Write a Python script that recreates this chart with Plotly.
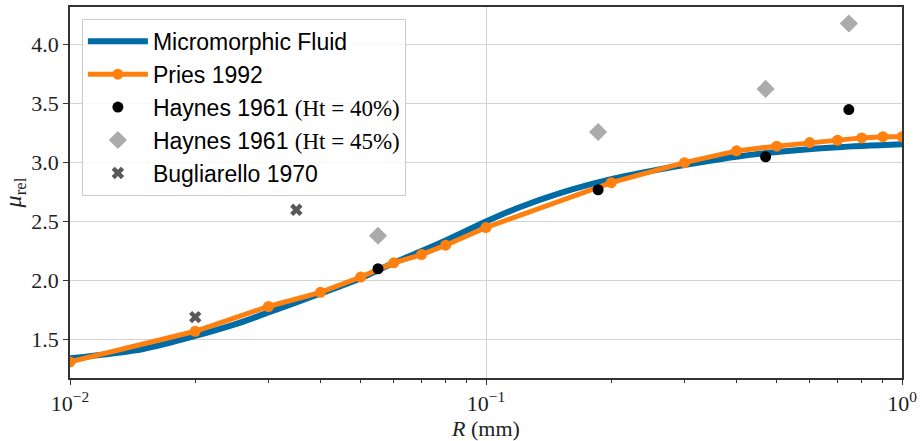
import plotly.graph_objects as go

# ---- data ----
micro_R = [0.01, 0.015, 0.02, 0.025, 0.03, 0.04, 0.05, 0.06, 0.07, 0.08,
           0.1, 0.12, 0.15, 0.2, 0.25, 0.3, 0.4, 0.5, 0.7, 1.0]
micro_mu = [1.34, 1.42, 1.53, 1.63, 1.73, 1.89, 2.02, 2.15, 2.25, 2.34,
            2.50, 2.62, 2.74, 2.86, 2.93, 2.98, 3.05, 3.09, 3.13, 3.155]

pries_R = [0.01, 0.02, 0.03, 0.04, 0.05, 0.06, 0.07, 0.08, 0.1, 0.2, 0.3, 0.4, 0.5, 0.6, 0.7, 0.8, 0.9, 1.0]
pries_mu = [1.31, 1.57, 1.78, 1.90, 2.03, 2.15, 2.22, 2.30, 2.45, 2.83, 3.00, 3.10, 3.14, 3.17, 3.19, 3.21, 3.22, 3.22]

haynes_R = [0.055, 0.186, 0.47, 0.745]
haynes40_mu = [2.10, 2.77, 3.05, 3.45]
haynes45_mu = [2.38, 3.26, 3.625, 4.18]

bug_R = [0.02, 0.035]
bug_mu = [1.69, 2.60]

x_tickvals = [0.01, 0.1, 1.0]
x_ticktext = ["10<sup>−2</sup>", "10<sup>−1</sup>", "10<sup>0</sup>"]
y_tickvals = [1.5, 2.0, 2.5, 3.0, 3.5, 4.0]
y_ticktext = ["1.5", "2.0", "2.5", "3.0", "3.5", "4.0"]
minor_vals = [k * 10 ** e for e in (-2, -1) for k in range(2, 10)]

SERIF = "Liberation Serif"
SANS = "Liberation Sans"

def math(s):
    return f"<span style='font-family:{SERIF}'>{s}</span>"

fig = go.Figure()
fig.add_trace(go.Scatter(
    x=micro_R, y=micro_mu, mode="lines", name="Micromorphic Fluid", legendgroup="a",
    line=dict(color="#006BA4", width=6, shape="spline", smoothing=0.8)))
fig.add_trace(go.Scatter(
    x=pries_R, y=pries_mu, mode="lines+markers", name="Pries 1992", legendgroup="b",
    line=dict(color="#FF800E", width=5),
    marker=dict(color="#FF800E", size=11)))
fig.add_trace(go.Scatter(
    x=haynes_R, y=haynes40_mu, mode="markers", legendgroup="c",
    name="Haynes 1961 " + math("(Ht = 40%)"),
    marker=dict(color="black", size=11)))
fig.add_trace(go.Scatter(
    x=haynes_R, y=haynes45_mu, mode="markers", legendgroup="d",
    name="Haynes 1961 " + math("(Ht = 45%)"),
    marker=dict(color="#ABABAB", size=14, symbol="diamond")))
fig.add_trace(go.Scatter(
    x=bug_R, y=bug_mu, mode="markers", name="Bugliarello 1970", legendgroup="e",
    marker=dict(color="#595959", size=11, symbol="x")))

fig.update_layout(
    width=922, height=441,
    margin=dict(l=70, r=15, t=5, b=61),
    paper_bgcolor="white", plot_bgcolor="white",
    font=dict(family=SERIF, size=19, color="#222"),
    showlegend=True,
    legend=dict(
        x=0.0143, y=0.968, xanchor="left", yanchor="top",
        bgcolor="rgba(255,255,255,0.85)", bordercolor="#cccccc", borderwidth=1,
        font=dict(family=SANS, size=23, color="black"),
        itemwidth=60, tracegroupgap=2, traceorder="normal"),
)
fig.update_xaxes(
    type="log", range=[-2, 0],
    tickmode="array", tickvals=x_tickvals, ticktext=x_ticktext,
    ticklabeloverflow="allow",
    ticks="outside", ticklen=5, tickwidth=1, tickcolor="#333",
    showgrid=True, gridcolor="#d3d3d3", gridwidth=1,
    showline=True, linecolor="#333", linewidth=1.5, mirror=True,
    minor=dict(tickmode="array", tickvals=minor_vals, ticks="outside",
               ticklen=3, tickcolor="#333", showgrid=False),
    title=dict(text="<i>R</i> (mm)", font=dict(family=SERIF, size=22), standoff=4),
    tickfont=dict(family=SERIF, size=22),
    zeroline=False,
)
fig.update_yaxes(
    range=[1.1735, 4.32],
    tickmode="array", tickvals=y_tickvals, ticktext=y_ticktext,
    ticks="outside", ticklen=5, tickwidth=1, tickcolor="#333",
    showgrid=True, gridcolor="#d3d3d3", gridwidth=1,
    showline=True, linecolor="#333", linewidth=1.5, mirror=True,
    title=dict(text="<i>μ</i><sub>rel</sub>", font=dict(family=SERIF, size=24), standoff=6),
    tickfont=dict(family=SERIF, size=22),
    zeroline=False,
)

fig.write_html("out.html")
